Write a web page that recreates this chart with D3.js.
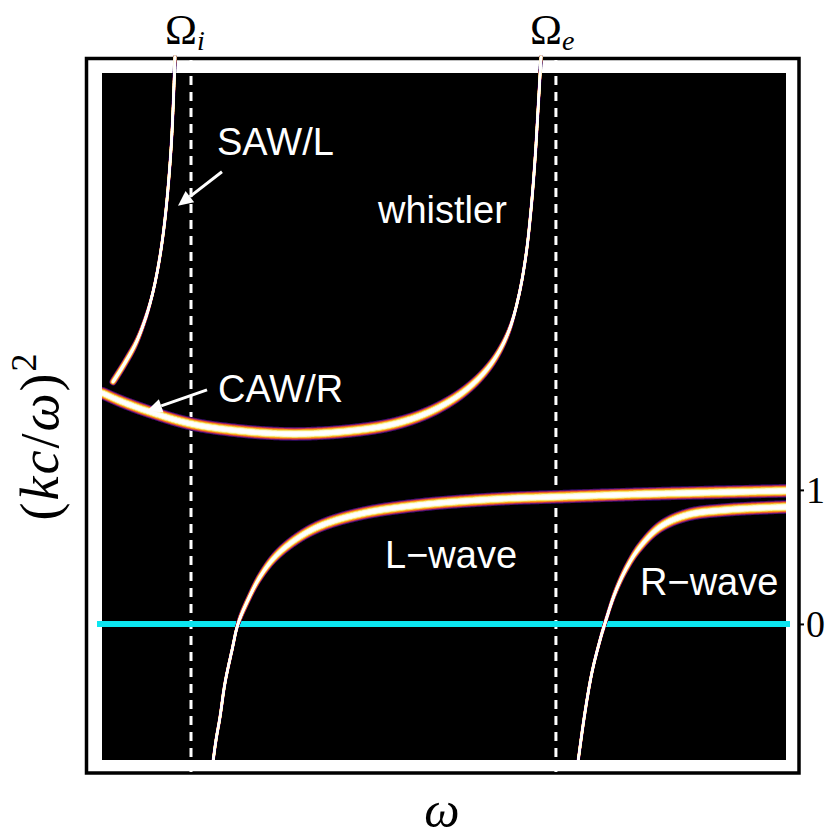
<!DOCTYPE html>
<html>
<head>
<meta charset="utf-8">
<script src="https://cdn.jsdelivr.net/npm/d3@7"></script>
<style>
body { margin: 0; background: #fff; }
</style>
</head>
<body>
<svg id="chart" width="826" height="838"></svg>
<script>
// cold plasma, parallel propagation: index of refraction squared vs frequency
// frequencies in units of the ion cyclotron frequency

var omegaI = 1,
	omegaE = 5.1;

var xDomain = [0, 7.685],
	yDomain = [-1.015, 4.11];

// branches: [omega, (kc/omega)^2]
var sawL = [
	[0.124, 1.806], [0.258, 1.948], [0.382, 2.097], [0.483, 2.269], [0.562, 2.448],
	[0.629, 2.657], [0.685, 2.896], [0.730, 3.164], [0.775, 3.537], [0.798, 3.836],
	[0.820, 4.231]
];

var cawWhistler = [
	[0.000, 1.724], [0.202, 1.664], [0.539, 1.582], [1.000, 1.493], [1.551, 1.440],
	[2.112, 1.418], [2.674, 1.433], [3.236, 1.485], [3.629, 1.567], [3.933, 1.672],
	[4.157, 1.784], [4.337, 1.910], [4.472, 2.045], [4.584, 2.209], [4.685, 2.455],
	[4.764, 2.754], [4.820, 3.090], [4.865, 3.463], [4.899, 3.836], [4.933, 4.231]
];

var lWave = [
	[1.247, -1.030], [1.281, -0.866], [1.326, -0.694], [1.382, -0.440], [1.461, -0.194],
	[1.528, 0.000], [1.640, 0.179], [1.775, 0.351], [1.944, 0.500], [2.169, 0.627],
	[2.449, 0.731], [2.899, 0.821], [3.573, 0.888], [4.472, 0.933], [5.101, 0.948],
	[6.157, 0.970], [7.685, 0.993]
];

var rWave = [
	[5.348, -1.030], [5.427, -0.657], [5.506, -0.358], [5.596, -0.119], [5.652, 0.007],
	[5.764, 0.231], [5.899, 0.425], [6.045, 0.575], [6.270, 0.724], [6.573, 0.813],
	[7.022, 0.851], [7.697, 0.873]
];

var yTicks = [0, 1];

var branchLabels = [
	{text: "SAW/L", at: [1.292, 3.500]},
	{text: "whistler", at: [3.101, 2.993]},
	{text: "CAW/R", at: [1.303, 1.657]},
	{text: "L\u2212wave", at: [3.180, 0.418]},
	{text: "R\u2212wave", at: [6.045, 0.216]}
];

var arrows = [
	{from: [1.348, 3.373], to: [0.854, 3.119]},
	{from: [1.180, 1.746], to: [0.506, 1.590]}
];

// inferno-ish glow, outer to inner (w = vertical thickness, m = minimum width)
var glow = [
	{c: "#2a0b57", w: 13.5, m: 3.4},
	{c: "#6b186e", w: 12.2, m: 3.0},
	{c: "#b8335a", w: 11, m: 2.7},
	{c: "#ea6528", w: 9.8, m: 2.6},
	{c: "#f9a51b", w: 8.4, m: 2.6},
	{c: "#f6e26a", w: 7, m: 2.6},
	{c: "#fdfde0", w: 5.3, m: 2.5},
	{c: "#ffffff", w: 3.2, m: 2.4}
];

var margin = {left: 102, right: 40, top: 73, bottom: 78};
var W = 826, H = 838;

var x = d3.scaleLinear().domain(xDomain).range([margin.left, W - margin.right]);
var y = d3.scaleLinear().domain(yDomain).range([H - margin.bottom, margin.top]);

var svg = d3.select("#chart");

// frame
svg.append("rect")
	.attr("x", 86.5).attr("y", 58.5)
	.attr("width", 712.5).attr("height", 714.5)
	.attr("fill", "#fff")
	.attr("stroke", "#000")
	.attr("stroke-width", 3.5);

svg.append("rect")
	.attr("x", x.range()[0]).attr("y", y.range()[1])
	.attr("width", x.range()[1] - x.range()[0])
	.attr("height", y.range()[0] - y.range()[1])
	.attr("fill", "#000");

svg.append("clipPath").attr("id", "plotClip")
	.append("rect")
	.attr("x", x.range()[0]).attr("y", 55)
	.attr("width", x.range()[1] - x.range()[0])
	.attr("height", y.range()[0] - 55);

// cyclotron resonances
svg.selectAll(".res")
	.data([omegaI, omegaE])
	.enter().append("line")
	.attr("class", "res")
	.attr("x1", d => x(d)).attr("x2", d => x(d))
	.attr("y1", 60).attr("y2", 772)
	.attr("stroke", "#fff")
	.attr("stroke-width", 3)
	.attr("stroke-dasharray", "9,7");

// zero line
svg.append("line")
	.attr("x1", 97).attr("x2", 790)
	.attr("y1", y(0)).attr("y2", y(0))
	.attr("stroke", "#0be6f0")
	.attr("stroke-width", 6);

// curves
var line = d3.line()
	.x(d => x(d[0]))
	.y(d => y(d[1]))
	.curve(d3.curveCatmullRom.alpha(0.5));

var gCurves = svg.append("g").attr("clip-path", "url(#plotClip)");

function segments(data) {
	var node = gCurves.append("path")
		.attr("d", line(data))
		.attr("fill", "none")
		.node();
	var L = node.getTotalLength(), pts = [];
	for (var s = 0; s < L; s += 1.5) pts.push(node.getPointAtLength(s));
	pts.push(node.getPointAtLength(L));
	return d3.pairs(pts).map(function(p) {
		var dx = p[1].x - p[0].x, dy = p[1].y - p[0].y;
		var len = Math.hypot(dx, dy) || 1;
		return {a: p[0], b: p[1], cos: Math.abs(dx) / len};
	});
}

var segs = [].concat(segments(sawL), segments(cawWhistler), segments(lWave), segments(rWave));

glow.forEach(function(layer) {
	gCurves.append("g")
		.selectAll("line")
		.data(segs)
		.enter().append("line")
		.attr("x1", d => d.a.x).attr("y1", d => d.a.y)
		.attr("x2", d => d.b.x).attr("y2", d => d.b.y)
		.attr("stroke", layer.c)
		.attr("stroke-linecap", "round")
		.attr("stroke-width", d => Math.max(layer.m, layer.w * d.cos));
});

// arrows
arrows.forEach(function(a) {
	var x0 = x(a.from[0]), y0 = y(a.from[1]), x1 = x(a.to[0]), y1 = y(a.to[1]);
	var ang = Math.atan2(y1 - y0, x1 - x0), hl = 15, hw = 7;
	var bx = x1 - hl * Math.cos(ang), by = y1 - hl * Math.sin(ang);
	svg.append("line")
		.attr("x1", x0).attr("y1", y0).attr("x2", bx).attr("y2", by)
		.attr("stroke", "#fff").attr("stroke-width", 3);
	svg.append("path")
		.attr("d", "M" + x1 + "," + y1 +
			"L" + (bx + hw * Math.sin(ang)) + "," + (by - hw * Math.cos(ang)) +
			"L" + (bx - hw * Math.sin(ang)) + "," + (by + hw * Math.cos(ang)) + "Z")
		.attr("fill", "#fff");
});

// branch labels
svg.selectAll(".lab")
	.data(branchLabels)
	.enter().append("text")
	.attr("class", "lab")
	.attr("x", d => x(d.at[0]))
	.attr("y", d => y(d.at[1]))
	.attr("fill", "#fff")
	.style("font-family", "'Liberation Sans', Arial, sans-serif")
	.style("font-size", "38px")
	.text(d => d.text);

// right axis: 0 and 1
var yAxis = d3.axisRight(y).tickValues(yTicks).tickSize(4).tickPadding(2).tickFormat(d3.format("d"));
var gy = svg.append("g").attr("transform", "translate(800,0)").call(yAxis);
gy.select(".domain").remove();
gy.selectAll("line").attr("stroke", "#000").attr("stroke-width", 2);
gy.selectAll("text")
	.style("font-family", "'Liberation Serif', 'Times New Roman', serif")
	.style("font-size", "38px")
	.attr("fill", "#000");

// resonance labels on top
[[omegaI, "i"], [omegaE, "e"]].forEach(function(r) {
	var t = svg.append("text")
		.attr("x", x(r[0]) - 26)
		.attr("y", 44)
		.style("font-family", "'Liberation Serif', 'Times New Roman', serif")
		.style("font-size", "43px");
	t.append("tspan").text("\u03A9");
	t.append("tspan").attr("dy", 6).style("font-size", "28px").style("font-style", "italic").text(r[1]);
});

// axis titles
svg.append("text")
	.attr("x", 442).attr("y", 827)
	.attr("text-anchor", "middle")
	.style("font-family", "'Liberation Serif', 'Times New Roman', serif")
	.style("font-size", "50px")
	.style("font-style", "italic")
	.text("\u03C9");

var yl = svg.append("text")
	.attr("transform", "translate(58,436) rotate(-90)")
	.attr("text-anchor", "middle")
	.style("font-family", "'Liberation Serif', 'Times New Roman', serif")
	.style("font-size", "54px")
	.style("letter-spacing", "2px");
yl.append("tspan").text("(");
yl.append("tspan").style("font-style", "italic").text("kc");
yl.append("tspan").text("/");
yl.append("tspan").style("font-style", "italic").text("\u03C9");
yl.append("tspan").text(")");
yl.append("tspan").attr("dy", -22).style("font-size", "36px").text("2");
</script>
</body>
</html>
